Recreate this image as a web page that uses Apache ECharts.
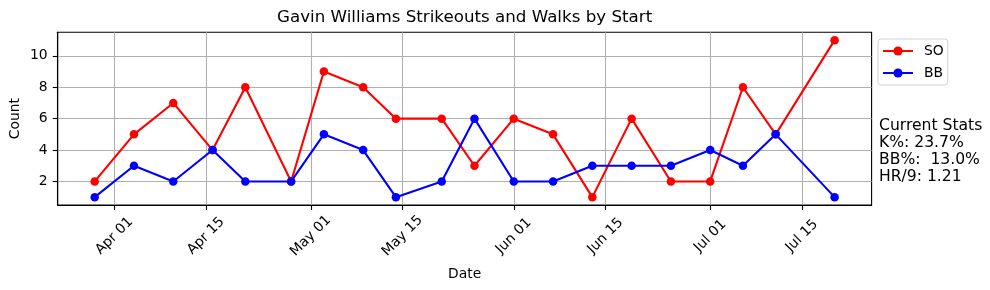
<!DOCTYPE html>
<html>
<head>
<meta charset="utf-8">
<script src="https://cdn.jsdelivr.net/npm/echarts@6/dist/echarts.min.js"></script>
<style>
html,body{margin:0;padding:0;background:#fff;}
#chart{width:990px;height:290px;}
</style>
</head>
<body>
<div id="chart"></div>
<script>
// ---- data ----
const startDates = ['2025-03-29','2025-04-04','2025-04-10','2025-04-16','2025-04-21','2025-04-28',
  '2025-05-03','2025-05-09','2025-05-14','2025-05-21','2025-05-26','2025-06-01','2025-06-07',
  '2025-06-13','2025-06-19','2025-06-25','2025-07-01','2025-07-06','2025-07-11','2025-07-20'];
const soValues = [2,5,7,4,8,2,9,8,6,6,3,6,5,1,6,2,2,8,5,11];
const bbValues = [1,3,2,4,2,2,5,4,1,2,6,2,2,3,3,3,4,3,5,1];
const xTickDates = ['2025-04-01','2025-04-15','2025-05-01','2025-05-15','2025-06-01','2025-06-15','2025-07-01','2025-07-15'];
const xTickLabels = ['Apr 01','Apr 15','May 01','May 15','Jun 01','Jun 15','Jul 01','Jul 15'];
const yTicks = [2,4,6,8,10];
const statsLines = ['Current Stats','K%: 23.7%','BB%:  13.0%','HR/9: 1.21'];
const titleText = 'Gavin Williams Strikeouts and Walks by Start';

// days since epoch (UTC) used as a numeric date scale
function dnum(s){const p=s.split('-').map(Number);return Date.UTC(p[0],p[1]-1,p[2])/86400000;}
const tickNums = xTickDates.map(dnum);
const labelMap = {};
tickNums.forEach((t,i)=>{labelMap[t]=xTickLabels[i];});
const first = dnum(startDates[0]), last = dnum(startDates[startDates.length-1]);
const span = last-first;
const xMin = first - 0.05*span, xMax = last + 0.05*span;

const FONT = 'DejaVu Sans';
const chart = echarts.init(document.getElementById('chart'), null, {renderer:'canvas'});
chart.setOption({
  animation:false,
  backgroundColor:'#fff',
  textStyle:{fontFamily:FONT},
  grid:{left:57.7,right:118.4,top:32.3,bottom:85,containLabel:false,outerBoundsMode:'none',
    show:true,borderColor:'#000',borderWidth:1.1,backgroundColor:'transparent'},
  legend:{orient:'vertical',left:878,top:39,padding:[5,4,5,4],itemGap:8,itemWidth:30,itemHeight:11.5,
    borderColor:'#d0d0d0',borderWidth:1,borderRadius:3,backgroundColor:'#fff',
    textStyle:{fontFamily:FONT,fontSize:13.9,color:'#000',lineHeight:14,padding:[0,0,0,6]},data:['SO','BB']},
  xAxis:{type:'value',min:xMin,max:xMax,
    name:'Date',nameLocation:'middle',nameGap:62,nameMoveOverlap:false,nameTextStyle:{fontFamily:FONT,fontSize:13.9,color:'#000'},
    axisLine:{show:true,lineStyle:{color:'#000',width:1.1}},
    axisTick:{show:true,length:5,customValues:tickNums,lineStyle:{color:'#000',width:1.1}},
    axisLabel:{customValues:tickNums,rotate:45,align:'center',verticalAlign:'middle',margin:31,
      fontFamily:FONT,fontSize:13.9,color:'#000',formatter:function(v){return labelMap[v]||'';}},
    splitLine:{show:true,lineStyle:{color:'#b0b0b0',width:1.1}}},
  yAxis:{type:'value',min:0.5,max:11.5,
    name:'Count',nameLocation:'middle',nameGap:35,nameMoveOverlap:false,nameTextStyle:{fontFamily:FONT,fontSize:13.9,color:'#000'},
    axisLine:{show:true,lineStyle:{color:'#000',width:1.1}},
    axisTick:{show:true,length:5,customValues:yTicks,lineStyle:{color:'#000',width:1.1}},
    axisLabel:{customValues:yTicks,margin:10,fontFamily:FONT,fontSize:13.9,color:'#000'},
    splitLine:{show:true,lineStyle:{color:'#b0b0b0',width:1.1}}},
  graphic:[
    {type:'text',x:464.6,y:18,style:{text:titleText,font:'16.7px "DejaVu Sans"',fill:'#000',align:'center',verticalAlign:'middle'}},
    {type:'text',x:879,y:118,style:{text:statsLines.join('\n'),font:'15.6px "DejaVu Sans"',lineHeight:16.7,fill:'#000'}}
  ],
  series:[
    {name:'SO',type:'line',data:startDates.map((d,i)=>[dnum(d),soValues[i]]),symbol:'circle',symbolSize:8.5,
      color:'#ff0000',lineStyle:{width:2.1,color:'#ff0000'},itemStyle:{color:'#ff0000'}},
    {name:'BB',type:'line',data:startDates.map((d,i)=>[dnum(d),bbValues[i]]),symbol:'circle',symbolSize:8.5,
      color:'#0000ff',lineStyle:{width:2.1,color:'#0000ff'},itemStyle:{color:'#0000ff'}}
  ]
});
</script>
</body>
</html>
